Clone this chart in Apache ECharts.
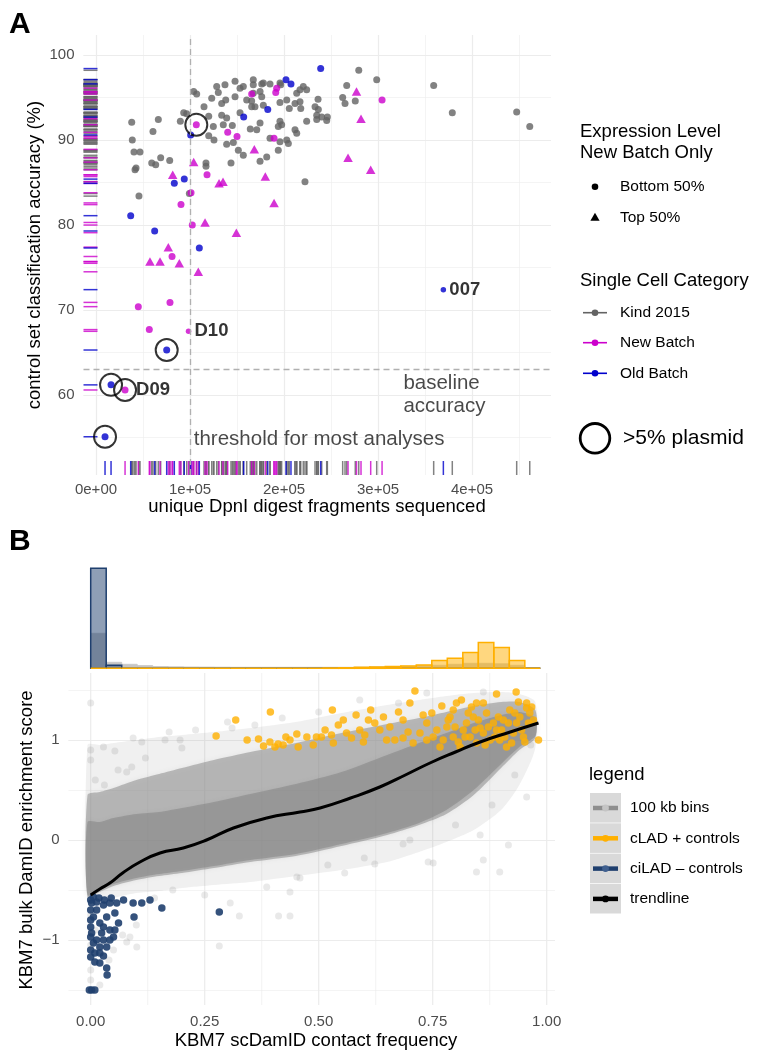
<!DOCTYPE html>
<html>
<head>
<meta charset="utf-8">
<script src="https://cdn.jsdelivr.net/npm/echarts@6.0.0/dist/echarts.min.js"></script>
<style>
  html, body { margin: 0; padding: 0; background: #fff; }
  #chart { width: 757px; height: 1053px; }
</style>
</head>
<body>
<div id="chart"></div>
<script>
// ---------- panel A: accuracy vs fragments ----------
var kind2015 = [
  [38000,92.1],[66300,92.4],[60600,91.0],[38600,90.0],[40400,88.6],[46800,88.6],[41500,86.5],[42600,86.7],
  [59300,87.3],[63500,87.1],[68800,87.9],[78400,87.6],[45700,83.4],[89700,92.2],[93300,93.2],[96500,93.1],
  [103900,95.7],[107100,95.4],[99300,83.7],[114900,93.9],[119900,92.8],[124800,91.6],[119900,90.5],[125500,90.0],
  [117000,87.3],[117000,86.9],[123100,94.9],[133700,94.3],[138000,94.7],[128400,96.3],[130100,95.6],[137200,96.5],
  [147900,96.9],[153200,96.1],[156700,96.3],[133700,92.9],[139000,92.6],[135400,91.8],[145000,91.7],[147900,95.1],
  [153200,93.2],[139000,89.5],[146100,89.7],[151400,88.8],[156700,88.2],[143600,87.3],[164100,91.3],[165600,94.6],
  [160300,94.7],[165600,93.9],[169100,93.9],[174500,92.0],[171000,91.2],[185100,90.2],[195700,89.8],[181600,88.0],
  [174500,87.5],[178000,96.7],[185100,96.6],[195700,96.7],[202900,94.7],[195700,94.4],[197500,91.8],[211700,91.2],
  [213500,90.8],[195700,92.2],[202900,90.0],[204600,89.6],[193900,88.8],[213500,95.5],[217000,95.9],[220500,96.3],
  [224100,95.9],[211700,94.3],[217000,94.5],[167300,97.1],[167300,96.5],[176300,96.6],[167300,95.5],[174500,95.7],
  [176300,95.1],[178000,94.1],[196500,96.5],[205600,93.7],[236200,94.8],[233000,93.9],[236500,93.6],[234800,92.9],
  [240100,92.7],[246100,92.7],[245400,92.3],[234800,92.4],[224100,92.2],[193900,91.6],[222300,85.1],[266700,96.4],
  [262400,95.0],[264900,94.3],[275800,94.6],[279500,98.2],[298600,97.1],[359200,96.4],[379000,93.2],[447500,93.3],
  [461400,91.6],[217800,93.7]
];
// new batch, bottom 50% expression (circles)
var newBatchLow = [
  [106700,91.8],[140100,90.9],[150000,90.4],[118100,85.9],[101100,83.8],[90400,82.4],[102400,80.0],[80900,76.3],
  [165600,95.4],[192200,96.1],[191200,95.6],[189400,90.2],[304300,94.7],[45000,70.4],[78700,70.9],[56700,67.7],
  [98400,67.5],[30900,60.6]
];
// new batch, top 50% expression (triangles)
var newBatchHigh = [
  [103900,87.4],[81600,85.9],[130900,84.9],[135100,85.1],[116000,80.3],[149300,79.1],[76900,77.4],[57400,75.7],
  [68100,75.7],[88600,75.5],[108800,74.5],[168400,88.9],[180100,85.7],[189400,82.6],[277100,95.7],[281900,92.5],
  [268100,87.9],[292200,86.5]
];
var oldBatch = [
  [100700,90.6],[157100,92.7],[83300,84.9],[93900,85.4],[36900,81.1],[62400,79.3],[109900,77.3],[182700,93.6],
  [202100,97.1],[207400,96.6],[239000,98.4],[369500,72.4],[75200,65.3],[16000,61.2],[9600,55.1]
];
var plasmid = [[106700,91.8],[75200,65.3],[16000,61.2],[30900,60.6],[9600,55.1]];
var pointLabels = [
  { name: 'D10', value: [98400,67.5] },
  { name: 'D09', value: [30900,60.6] },
  { name: '007', value: [369500,72.4] }
];
var thresholdX = 100000;
var baselineY = 63;
var notes = [
  { text: 'threshold for most analyses', value: [104000,54.8] },
  { text: 'baseline\naccuracy', value: [327000,60.0] }
];

// ---------- panel B: bulk vs single-cell DamID ----------
var clad = [
  [0.275,1.04],[0.318,1.20],[0.394,1.28],[0.343,1.00],[0.368,1.01],[0.379,0.94],[0.393,0.98],[0.404,0.93],
  [0.411,0.96],[0.428,1.03],[0.452,1.06],[0.422,0.95],[0.455,0.93],[0.474,1.03],[0.488,0.95],[0.506,1.03],
  [0.514,1.10],[0.528,1.05],[0.532,0.97],[0.530,1.30],[0.543,1.15],[0.561,1.07],[0.572,1.02],[0.582,1.25],
  [0.590,1.10],[0.601,1.05],[0.609,1.20],[0.614,1.30],[0.623,1.17],[0.634,1.10],[0.642,1.23],[0.649,1.00],
  [0.667,1.00],[0.675,1.28],[0.685,1.20],[0.696,1.08],[0.700,1.37],[0.711,1.49],[0.707,0.97],[0.722,1.07],
  [0.737,1.17],[0.748,1.27],[0.751,1.03],[0.770,1.34],[0.766,0.93],[0.781,1.13],[0.788,1.23],[0.795,1.03],
  [0.802,1.37],[0.810,0.93],[0.817,1.10],[0.824,1.17],[0.832,1.03],[0.839,1.23],[0.846,0.97],[0.854,1.12],
  [0.861,1.07],[0.868,1.27],[0.876,1.00],[0.883,1.17],[0.890,1.10],[0.897,1.00],[0.905,1.20],[0.912,0.93],
  [0.919,1.30],[0.927,1.07],[0.934,1.17],[0.941,1.23],[0.949,1.03],[0.956,1.37],[0.963,1.27],[0.971,1.20],
  [0.982,1.00],[0.813,1.40],[0.835,1.33],[0.861,1.37],[0.890,1.46],[0.933,1.48],[0.938,1.38],[0.956,1.32],
  [0.759,1.10],[0.773,1.00],[0.784,1.20],[0.799,1.13],[0.806,0.98],[0.821,1.03],[0.828,1.27],[0.843,1.10],
  [0.850,1.20],[0.865,0.95],[0.872,1.13],[0.886,1.03],[0.894,1.23],[0.901,1.10],[0.908,1.03],[0.916,1.17],
  [0.923,0.97],[0.930,1.27],[0.945,1.10],[0.952,0.98],[0.960,1.17],[0.967,1.33],[0.685,1.02],[0.656,1.13],
  [0.598,0.98],[0.554,1.20],[0.495,1.03],[0.437,1.00],[0.737,1.00],[0.729,1.25],[0.795,1.30],[0.846,1.37]
];
var cilad = [
  [0.002,-1.50],[0.009,-1.50],[-0.003,-1.50],[0.035,-1.28],[0.036,-1.35],[0.009,-1.22],[0.028,-1.16],[0.020,-1.07],
  [0.000,-1.10],[0.013,-1.00],[0.002,-0.93],[0.024,-0.93],[0.042,-0.90],[0.020,-0.83],[0.000,-0.87],[0.006,-0.77],
  [0.000,-0.70],[0.013,-0.70],[0.028,-0.65],[0.042,-0.63],[0.057,-0.63],[0.072,-0.60],[0.093,-0.63],[0.112,-0.63],
  [0.130,-0.60],[0.156,-0.68],[0.095,-0.77],[0.053,-0.73],[0.061,-0.83],[0.050,-0.97],[0.042,-1.00],[0.053,-0.90],
  [0.028,-0.87],[0.035,-0.77],[0.013,-0.62],[0.002,-0.63],[0.000,-0.60],[0.282,-0.72],[0.000,-0.97],[0.000,-1.17],
  [0.006,-1.03],[0.020,-1.23],[0.000,-0.80],[0.009,-1.13],[0.020,-1.13],[0.035,-1.07],[0.028,-1.00],[0.006,-0.57],
  [0.018,-0.58],[0.030,-0.60],[0.045,-0.58]
];
// sparse 100 kb bins outside the dense cloud
var binOutliers = [
  [0.0,1.37],[0.0,0.90],[0.0,0.80],[0.028,0.93],[0.053,0.89],[0.093,1.02],[0.112,0.98],[0.163,1.00],[0.172,1.08],
  [0.196,1.0],[0.079,0.68],[0.090,0.73],[0.0,-1.30],[0.0,-1.40],[0.079,-1.02],[0.101,-1.07],[0.086,-0.97],
  [0.282,-1.06],[0.326,-0.76],[0.412,-0.76],[0.386,-0.47],[0.306,-0.63],[0.956,0.43],[0.854,0.05],[0.897,-0.32],
  [0.846,-0.32],[0.861,-0.20],[0.740,-0.22],[0.751,-0.23],[0.916,-0.05],[0.437,-0.76],[0.437,-0.52],[0.452,-0.37],
  [0.459,-0.38],[0.557,-0.33],[0.623,-0.24],[0.685,-0.04],[0.590,1.40],[0.675,1.37],[0.737,1.47],[0.861,1.48],
  [0.23,1.1],[0.30,1.18],[0.36,1.15],[0.25,-0.55],[0.18,-0.5],[0.14,-0.58],[0.04,-1.2],[0.02,-1.45],[0.01,0.6],
  [0.03,0.55],[0.06,0.7],[0.12,0.82],[0.2,0.92],[0.52,-0.25],[0.6,-0.18],[0.7,0.0],[0.8,0.15],[0.88,0.35],
  [0.93,0.65],[0.965,0.95],[0.5,1.28],[0.42,1.22],[0.31,1.12],[0.0,-0.75],[0.01,-0.9],[0.0,-1.05],[0.05,-1.1],
  [0.07,-0.95],[0.1,-0.85]
];
// outline of the dense cloud of 100 kb bins
var bandX     = [-0.007, 0.02, 0.05, 0.10, 0.15, 0.20, 0.27, 0.35, 0.45, 0.55, 0.65, 0.72, 0.78, 0.84, 0.90, 0.94, 0.975];
var haloUpper = [0.95, 0.95, 0.97, 1.00, 1.03, 1.05, 1.08, 1.12, 1.18, 1.27, 1.35, 1.40, 1.44, 1.47, 1.48, 1.46, 1.38];
var haloLower = [-0.62, -0.62, -0.58, -0.53, -0.51, -0.48, -0.45, -0.42, -0.36, -0.30, -0.22, -0.12, -0.02, 0.10, 0.30, 0.55, 0.92];
var mainUpper = [0.45, 0.48, 0.52, 0.60, 0.66, 0.72, 0.80, 0.88, 0.97, 1.07, 1.16, 1.22, 1.28, 1.34, 1.38, 1.38, 1.30];
var mainLower = [-0.57, -0.52, -0.46, -0.40, -0.36, -0.33, -0.28, -0.22, -0.16, -0.06, 0.05, 0.15, 0.26, 0.45, 0.72, 0.90, 1.02];
var coreUpper = [0.18, 0.18, 0.22, 0.26, 0.28, 0.32, 0.38, 0.46, 0.56, 0.68, 0.85, 0.97, 1.07, 1.17, 1.25, 1.28, 1.22];
var coreLower = [-0.55, -0.50, -0.44, -0.38, -0.34, -0.31, -0.26, -0.20, -0.14, -0.04, 0.07, 0.17, 0.30, 0.50, 0.76, 0.93, 1.04];
var trendX = [0, 0.02, 0.042, 0.07, 0.108, 0.152, 0.203, 0.254, 0.313, 0.386, 0.459, 0.503, 0.57, 0.634, 0.69, 0.744, 0.80, 0.854, 0.92, 0.982];
var trendY = [-0.55, -0.49, -0.43, -0.33, -0.22, -0.13, -0.08, 0.0, 0.12, 0.22, 0.28, 0.32, 0.42, 0.53, 0.65, 0.77, 0.88, 0.98, 1.08, 1.17];
// marginal histogram (29 bins)
var binWidth = 0.034;
var histBins   = [35, 6, 4, 2.7, 1.8, 1.5, 1.3, 1.2, 1.1, 1, 1, 1, 1, 1, 1, 1, 1, 1.2, 1.5, 1.8, 2, 2.5, 3, 4, 5, 5, 4.5, 3, 0.5];
var histCilad  = [100, 3, 0, 0, 0, 0, 0, 0, 0, 0, 0, 0, 0, 0, 0, 0, 0, 0, 0, 0, 0, 0, 0, 0, 0, 0, 0, 0, 0];
var histClad   = [0, 0, 0, 0, 0, 0, 0, 0, 0, 0, 0, 0, 0, 0, 0, 0.3, 0.5, 1, 1.3, 1.7, 2.3, 3.3, 7.7, 10, 15.7, 25.7, 20.7, 7.7, 0];
var xMajorB = [0, 0.25, 0.5, 0.75, 1];
var xMinorB = [0.125, 0.375, 0.625, 0.875];

// ---------- styling ----------
var FONT = '"Liberation Sans", Arial, Helvetica, sans-serif';
var GRAY = '#636363', MAGENTA = '#cc00cc', BLUE = '#0000cc';
var ORANGE = '#ffb000', NAVY = '#1f3f6e';
var xMinA = -13300, xMaxA = 484000, yMinA = 50.6, yMaxA = 102.35;
var labelGap = [6, 11, 6];
var smallNames = ['D10', '007'];

function sci(v) {
  if (v === 0) return '0e+00';
  var e = Math.floor(Math.log10(Math.abs(v)));
  var m = Math.round(v / Math.pow(10, e) * 100) / 100;
  return m + 'e+' + (e < 10 ? '0' : '') + e;
}
function isSmall(p) {
  return pointLabels.some(function (l) {
    return smallNames.indexOf(l.name) >= 0 && l.value[0] === p[0] && l.value[1] === p[1];
  });
}
function sized(pts) {
  return pts.map(function (p) { return isSmall(p) ? { value: p, symbolSize: 5.5 } : p; });
}
function rugSeries(pts, color, extra) {
  var yr = {
    type: 'scatter', xAxisIndex: 0, yAxisIndex: 0, silent: true, clip: false,
    symbol: 'rect', symbolSize: [14, 1.5], symbolOffset: [7, 0],
    itemStyle: { color: color },
    data: pts.map(function (p) { return [xMinA, p[1]]; })
  };
  var xr = {
    type: 'scatter', xAxisIndex: 0, yAxisIndex: 0, silent: true, clip: false,
    symbol: 'rect', symbolSize: [1.5, 14], symbolOffset: [0, -7],
    itemStyle: { color: color },
    data: pts.map(function (p) { return [p[0], yMinA]; })
  };
  if (extra) Object.assign(yr, extra);
  return [yr, xr];
}
// soft-edged polygon for a band of the point cloud
function bandSeries(upper, lower, fill, shadow, blur) {
  return {
    type: 'custom', xAxisIndex: 2, yAxisIndex: 2, silent: true,
    data: [[0.5, 0]], encode: { x: 0, y: 1 },
    renderItem: function (params, api) {
      var pts = [];
      for (var i = 0; i < bandX.length; i++) pts.push(api.coord([bandX[i], upper[i]]));
      for (var j = bandX.length - 1; j >= 0; j--) pts.push(api.coord([bandX[j], lower[j]]));
      return { type: 'polygon', shape: { points: pts, smooth: 0.25 },
        style: { fill: fill, shadowBlur: blur, shadowColor: shadow } };
    }
  };
}
function vLines(vals, width) {
  return {
    type: 'custom', xAxisIndex: 2, yAxisIndex: 2, silent: true,
    data: vals.map(function (v) { return [v, 0]; }), encode: { x: 0, y: 1 },
    renderItem: function (params, api) {
      var x = api.coord([api.value(0), 0])[0];
      var cs = params.coordSys;
      return { type: 'line', shape: { x1: x, y1: cs.y, x2: x, y2: cs.y + cs.height },
        style: { stroke: '#ebebeb', lineWidth: width } };
    }
  };
}
function histSeries(counts, fill, stroke, lw) {
  return {
    type: 'custom', xAxisIndex: 3, yAxisIndex: 4, silent: true,
    data: counts.map(function (c, i) { return [i * binWidth, (i + 1) * binWidth, c]; }),
    encode: { x: [0, 1], y: 2 },
    renderItem: function (params, api) {
      var p0 = api.coord([api.value(0), 0]);
      var p1 = api.coord([api.value(1), api.value(2)]);
      return { type: 'rect', shape: { x: p0[0], y: p1[1], width: p1[0] - p0[0], height: p0[1] - p1[1] },
        style: { fill: fill, stroke: stroke, lineWidth: lw } };
    }
  };
}
function txt(x, y, s, size, o) {
  o = o || {};
  return {
    type: 'text', x: x, y: y, rotation: o.rot || 0, z: 10,
    style: {
      text: s, fontSize: size, fontFamily: FONT, fontWeight: o.bold ? 'bold' : 'normal',
      fill: o.color || '#000', align: o.align || 'left', textAlign: o.align || 'left',
      verticalAlign: 'middle', textVerticalAlign: 'middle'
    }
  };
}

var tickLabel = { color: '#4d4d4d', fontSize: 15, fontFamily: FONT };
var majorLine = { show: true, showMinLine: false, showMaxLine: false, lineStyle: { color: '#ebebeb', width: 1.2 } };
var minorLine = { show: true, showMinLine: false, showMaxLine: false, lineStyle: { color: '#ededed', width: 0.6 } };
var noLine = { show: false };

var series = [];
// rugs (first one also carries the dashed reference lines)
series = series.concat(rugSeries(kind2015, GRAY, {
  markLine: {
    silent: true, symbol: 'none', label: { show: false },
    lineStyle: { color: '#b0b0b0', type: [6, 4], width: 1.3 },
    data: [{ xAxis: thresholdX }, { yAxis: baselineY }]
  }
}));
series = series.concat(rugSeries(newBatchLow.concat(newBatchHigh), MAGENTA));
series = series.concat(rugSeries(oldBatch, BLUE));
series.push(
  { type: 'scatter', xAxisIndex: 0, yAxisIndex: 0, symbol: 'circle', symbolSize: 7,
    itemStyle: { color: GRAY }, data: kind2015 },
  { type: 'scatter', xAxisIndex: 0, yAxisIndex: 0, symbol: 'circle', symbolSize: 7,
    itemStyle: { color: MAGENTA }, data: sized(newBatchLow) },
  { type: 'scatter', xAxisIndex: 0, yAxisIndex: 0, symbol: 'triangle', symbolSize: [9.5, 8.5],
    itemStyle: { color: MAGENTA }, data: newBatchHigh },
  { type: 'scatter', xAxisIndex: 0, yAxisIndex: 0, symbol: 'circle', symbolSize: 7,
    itemStyle: { color: BLUE }, data: sized(oldBatch) },
  { type: 'scatter', xAxisIndex: 0, yAxisIndex: 0, symbol: 'circle', symbolSize: 22,
    itemStyle: { color: 'rgba(0,0,0,0)', borderColor: '#000', borderWidth: 2 }, data: plasmid },
  { type: 'scatter', xAxisIndex: 0, yAxisIndex: 0, symbolSize: 0, silent: true,
    data: pointLabels.map(function (p, i) { return { name: p.name, value: p.value, label: { distance: labelGap[i] } }; }),
    label: { show: true, position: 'right', formatter: '{b}', fontSize: 18.5, fontWeight: 'bold',
      fontFamily: FONT, color: '#000' } },
  { type: 'scatter', xAxisIndex: 0, yAxisIndex: 0, symbolSize: 0, silent: true,
    data: notes.map(function (n) { return { name: n.text, value: n.value }; }),
    label: { show: true, position: 'right', distance: 0, formatter: '{b}', fontSize: 20.5, lineHeight: 23,
      fontFamily: FONT, color: '#1a1a1a' } }
);
// panel B
series.push(
  vLines(xMajorB, 1.2),
  vLines(xMinorB, 0.6),
  bandSeries(haloUpper, haloLower, 'rgba(150,150,150,0.13)', 'rgba(150,150,150,0.06)', 8),
  bandSeries(mainUpper, mainLower, 'rgba(128,128,128,0.48)', 'rgba(128,128,128,0.2)', 5),
  bandSeries(coreUpper, coreLower, 'rgba(128,128,128,0.5)', 'rgba(128,128,128,0.2)', 4),
  { type: 'scatter', xAxisIndex: 2, yAxisIndex: 2, symbolSize: 7, silent: true,
    itemStyle: { color: 'rgba(128,128,128,0.22)' }, data: binOutliers },
  { type: 'scatter', xAxisIndex: 2, yAxisIndex: 2, symbolSize: 7.5, silent: true,
    itemStyle: { color: NAVY, opacity: 0.9 }, data: cilad },
  { type: 'scatter', xAxisIndex: 2, yAxisIndex: 2, symbolSize: 7.5, silent: true,
    itemStyle: { color: ORANGE }, data: clad },
  { type: 'line', xAxisIndex: 2, yAxisIndex: 2, smooth: true, symbol: 'none', silent: true,
    lineStyle: { color: '#000', width: 3 },
    data: trendX.map(function (x, i) { return [x, trendY[i]]; }) },
  histSeries(histBins, 'rgba(128,128,128,0.45)', 'rgba(200,200,200,0.9)', 1),
  histSeries(histCilad, 'rgba(31,63,110,0.5)', NAVY, 1.5),
  histSeries(histClad, 'rgba(255,176,0,0.5)', ORANGE, 1.5)
);

// legends, titles and panel letters
var graphic = [
  txt(9, 25, 'A', 30, { bold: true }),
  txt(9, 542, 'B', 30, { bold: true }),
  txt(35, 255, 'control set classification accuracy (%)', 18.5, { align: 'center', rot: Math.PI / 2 }),
  txt(317, 507, 'unique DpnI digest fragments sequenced', 18.5, { align: 'center' }),
  txt(27, 840, 'KBM7 bulk DamID enrichment score', 18.5, { align: 'center', rot: Math.PI / 2 }),
  txt(316, 1041, 'KBM7 scDamID contact frequency', 18.5, { align: 'center' }),

  txt(580, 131.5, 'Expression Level', 18.5),
  txt(580, 152.5, 'New Batch Only', 18.5),
  { type: 'circle', shape: { cx: 595, cy: 186.7, r: 3.3 }, style: { fill: '#000' } },
  txt(620, 186.7, 'Bottom 50%', 15.5),
  { type: 'polygon', shape: { points: [[595, 212.8], [599.6, 220.8], [590.4, 220.8]] }, style: { fill: '#000' } },
  txt(620, 217.3, 'Top 50%', 15.5),
  txt(580, 280.7, 'Single Cell Category', 18.5),
  { type: 'circle', shape: { cx: 595, cy: 438.3, r: 14.8 }, style: { fill: 'none', stroke: '#000', lineWidth: 2.8 } },
  txt(623, 438.3, '>5% plasmid', 21),

  txt(589, 775, 'legend', 18.5)
];
[['Kind 2015', GRAY, 312.7], ['New Batch', MAGENTA, 342.7], ['Old Batch', BLUE, 373.3]].forEach(function (k) {
  graphic.push(
    { type: 'line', shape: { x1: 583, y1: k[2], x2: 607, y2: k[2] }, style: { stroke: k[1], lineWidth: 1.6 } },
    { type: 'circle', shape: { cx: 595, cy: k[2], r: 3.3 }, style: { fill: k[1] } },
    txt(620, k[2], k[0], 15.5)
  );
});
[['100 kb bins', '#8e8e8e', '#c4c4c4'], ['cLAD + controls', ORANGE, ORANGE],
 ['ciLAD \u2013 controls', NAVY, '#3f5f8e'], ['trendline', '#000', '#000']].forEach(function (k, i) {
  var top = 793 + i * 30.3, cy = top + 15;
  graphic.push(
    { type: 'rect', shape: { x: 590, y: top, width: 31, height: 29.6 }, style: { fill: '#d9d9d9' } },
    { type: 'line', shape: { x1: 593, y1: cy, x2: 618, y2: cy }, style: { stroke: k[1], lineWidth: 4.5 } },
    { type: 'circle', shape: { cx: 605.5, cy: cy, r: 3.4 }, style: { fill: k[2] } },
    txt(630, cy, k[0], 15.5)
  );
});

var chart = echarts.init(document.getElementById('chart'), null, { renderer: 'canvas' });
chart.setOption({
  animation: false,
  backgroundColor: '#fff',
  textStyle: { fontFamily: FONT },
  grid: [
    { left: 83.5, top: 35, width: 467.5, height: 440, outerBoundsMode: 'none', containLabel: false },
    { left: 68.5, top: 673, width: 486.5, height: 332, outerBoundsMode: 'none', containLabel: false },
    { left: 68.5, top: 560, width: 486.5, height: 108.3, outerBoundsMode: 'none', containLabel: false }
  ],
  xAxis: [
    { type: 'value', gridIndex: 0, min: xMinA, max: xMaxA, splitNumber: 5,
      axisLine: noLine, axisTick: noLine, splitLine: majorLine,
      axisLabel: Object.assign({ margin: 7, showMinLabel: false, showMaxLabel: false, formatter: sci }, tickLabel) },
    { type: 'value', gridIndex: 0, min: xMinA, max: xMaxA, splitNumber: 10,
      axisLine: noLine, axisTick: noLine, axisLabel: { show: false }, splitLine: minorLine },
    { type: 'value', gridIndex: 1, min: -0.0487, max: 1.0182,
      axisLine: noLine, axisTick: { show: false, customValues: xMajorB }, splitLine: noLine,
      axisLabel: Object.assign({ margin: 9, customValues: xMajorB,
        formatter: function (v) { return v.toFixed(2); } }, tickLabel) },
    { type: 'value', gridIndex: 2, min: -0.0487, max: 1.0182, show: false }
  ],
  yAxis: [
    { type: 'value', gridIndex: 0, min: yMinA, max: yMaxA, splitNumber: 5,
      axisLine: noLine, axisTick: noLine, splitLine: majorLine,
      axisLabel: Object.assign({ margin: 9, showMinLabel: false, showMaxLabel: false }, tickLabel) },
    { type: 'value', gridIndex: 0, min: yMinA, max: yMaxA, splitNumber: 10,
      axisLine: noLine, axisTick: noLine, axisLabel: { show: false }, splitLine: minorLine },
    { type: 'value', gridIndex: 1, min: -1.65, max: 1.67, splitNumber: 3,
      axisLine: noLine, axisTick: noLine, splitLine: majorLine,
      axisLabel: Object.assign({ margin: 9, showMinLabel: false, showMaxLabel: false,
        formatter: function (v) { return v < 0 ? '\u2212' + Math.abs(v) : String(v); } }, tickLabel) },
    { type: 'value', gridIndex: 1, min: -1.65, max: 1.67, splitNumber: 6,
      axisLine: noLine, axisTick: noLine, axisLabel: { show: false }, splitLine: minorLine },
    { type: 'value', gridIndex: 2, min: 0, max: 108.3, show: false }
  ],
  series: series,
  graphic: graphic
});
</script>
</body>
</html>
